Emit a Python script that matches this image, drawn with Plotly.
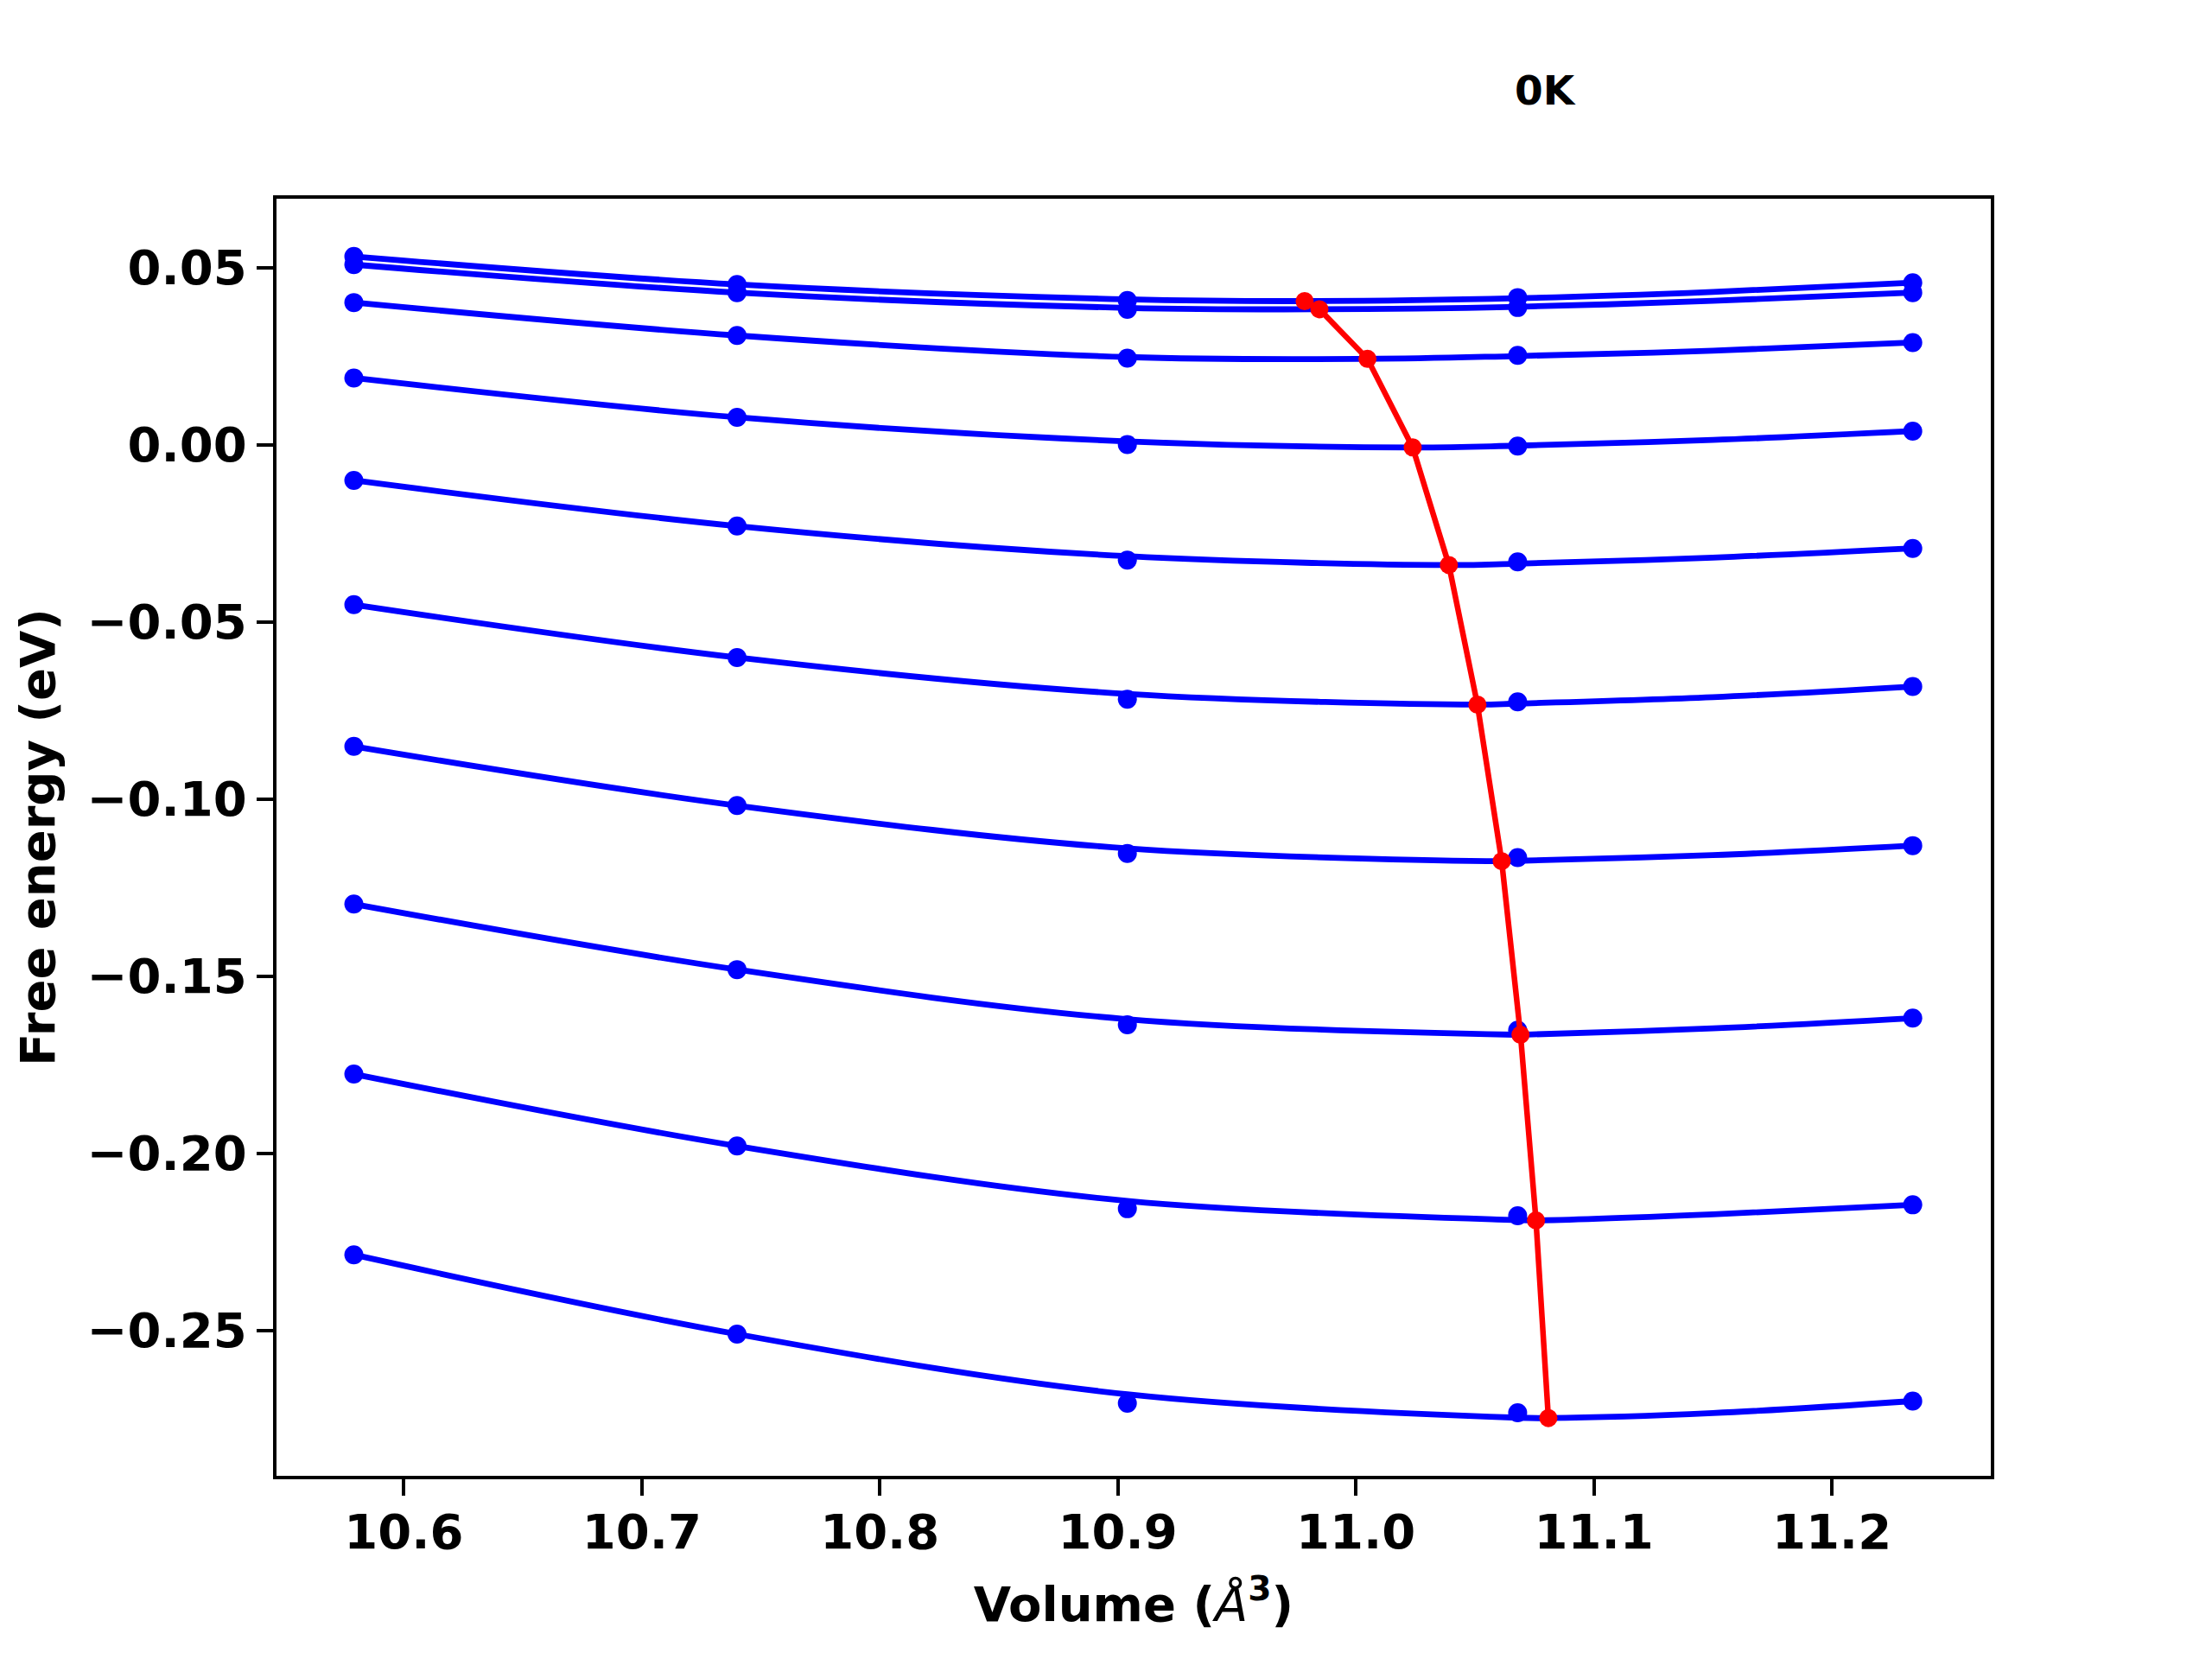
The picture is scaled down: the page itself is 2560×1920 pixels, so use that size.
import plotly.graph_objects as go

# Volumes (Å^3) at which free energies were computed
volumes = [10.579, 10.740, 10.904, 11.068, 11.234]

# Computed free energies (eV), one list per temperature curve (top to bottom)
energies = [
    [0.0531, 0.0452, 0.0407, 0.0415, 0.0457],
    [0.0508, 0.0429, 0.0382, 0.0387, 0.0429],
    [0.0401, 0.0308, 0.0244, 0.0252, 0.0288],
    [0.0188, 0.0077, 0.0000, -0.0004, 0.0038],
    [-0.0101, -0.0230, -0.0326, -0.0331, -0.0293],
    [-0.0452, -0.0601, -0.0719, -0.0726, -0.0683],
    [-0.0852, -0.1019, -0.1154, -0.1166, -0.1132],
    [-0.1297, -0.1482, -0.1638, -0.1653, -0.1619],
    [-0.1777, -0.1980, -0.2157, -0.2177, -0.2146],
    [-0.2287, -0.2511, -0.2706, -0.2733, -0.2700],
]

# Fitted-curve values at these volumes
fit_volumes = [10.579, 10.740, 10.904, 11.068, 11.150, 11.234]
fit_energies = [
    [0.0531, 0.0452, 0.0410, 0.0413, 0.0431, 0.0457],
    [0.0508, 0.0429, 0.0386, 0.0389, 0.0406, 0.0429],
    [0.0401, 0.0308, 0.0247, 0.0250, 0.0265, 0.0288],
    [0.0188, 0.0077, 0.0009, -0.0003, 0.0013, 0.0038],
    [-0.0101, -0.0230, -0.0315, -0.0336, -0.0319, -0.0293],
    [-0.0452, -0.0601, -0.0704, -0.0731, -0.0713, -0.0683],
    [-0.0852, -0.1019, -0.1140, -0.1175, -0.1159, -0.1132],
    [-0.1297, -0.1482, -0.1622, -0.1666, -0.1648, -0.1619],
    [-0.1777, -0.1980, -0.2135, -0.2189, -0.2173, -0.2146],
    [-0.2287, -0.2511, -0.2681, -0.2747, -0.2734, -0.2700],
]

# Equilibrium (minimum) points of each fitted curve
min_volumes = [10.9785, 10.9847, 11.0049, 11.0239, 11.0391,
               11.0511, 11.0613, 11.0692, 11.0757, 11.0809]
min_energies = [0.0405, 0.0382, 0.0242, -0.0008, -0.0340,
                -0.0734, -0.1176, -0.1666, -0.2190, -0.2748]

title_text = "0K"
x_label = "<b>Volume (</b><i>Å</i><b><sup>3</sup>)</b>"
y_label = "<b>Free energy (eV)</b>"

BLUE = "#0000ff"
RED = "#ff0000"
FONT = "DejaVu Sans"

fig = go.Figure()

for fe, e, vm, em in zip(fit_energies, energies, min_volumes, min_energies):
    pairs = sorted(zip(fit_volumes + [vm], fe + [em]))
    fx = [p[0] for p in pairs]
    fy = [p[1] for p in pairs]
    fig.add_trace(go.Scatter(x=fx, y=fy, mode="lines",
                             line=dict(color=BLUE, width=6.8, shape="spline", smoothing=1.0),
                             showlegend=False, hoverinfo="skip"))
    fig.add_trace(go.Scatter(x=volumes, y=e, mode="markers",
                             marker=dict(color=BLUE, size=22, line=dict(width=0)),
                             showlegend=False))

fig.add_trace(go.Scatter(x=min_volumes, y=min_energies, mode="lines+markers",
                         line=dict(color=RED, width=6.5),
                         marker=dict(color=RED, size=21, line=dict(width=0)),
                         showlegend=False))

axis_common = dict(
    showgrid=False, zeroline=False,
    showline=True, linecolor="black", linewidth=4.4, mirror=True,
    ticks="outside", ticklen=19, tickwidth=4.4, tickcolor="black",
    tickfont=dict(family=FONT, size=56, color="black", weight="bold"),
)

fig.update_layout(
    width=2560, height=1920,
    margin=dict(l=320, r=256, t=230, b=212),
    paper_bgcolor="white", plot_bgcolor="white",
    xaxis=dict(range=[10.5465, 11.2668], dtick=0.1, tick0=10.0, tickformat=".1f",
               ticklabelstandoff=-6,
               title=dict(text=x_label, font=dict(family=FONT, size=56, color="black"), standoff=33),
               **axis_common),
    yaxis=dict(range=[-0.2911, 0.0694], dtick=0.05, tick0=0, tickformat=".2f",
               title=dict(text=y_label, font=dict(family=FONT, size=56, color="black"), standoff=20),
               **axis_common),
    annotations=[dict(text="<b>" + title_text + "</b>", xref="paper", yref="paper",
                      x=0.7404, y=1.0846, xanchor="center", yanchor="middle",
                      showarrow=False, font=dict(family=FONT, size=47, color="black"))],
)

fig.write_html("out.html")
